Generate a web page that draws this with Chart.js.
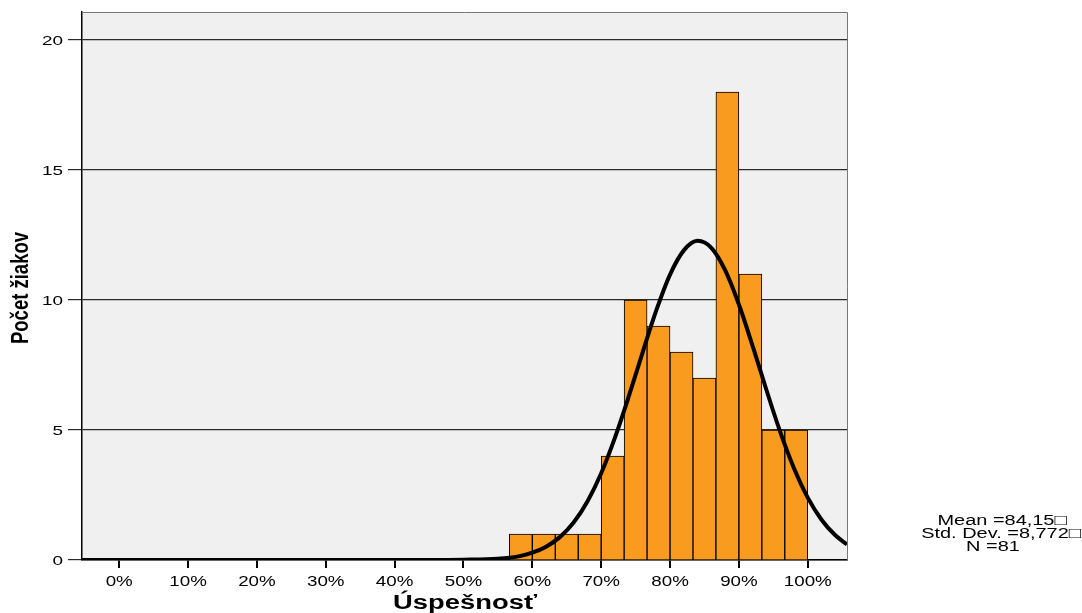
<!DOCTYPE html>
<html>
<head>
<meta charset="utf-8">
<script src="https://cdn.jsdelivr.net/npm/chart.js@4/dist/chart.umd.min.js"></script>
<style>
    html, body { margin: 0; padding: 0; background: #fff; }
    #wrap { width: 1082px; height: 613px; }
</style>
</head>
<body>
<div id="wrap"><canvas id="histChart" width="1082" height="613"></canvas></div>
<script>
// Histogram bins (centre of each 3.33 % wide bin) and counts
const binCenters = [58.33, 61.67, 65, 68.33, 71.67, 75, 78.33, 81.67, 85, 88.33, 91.67, 95, 98.33];
const counts = [1, 1, 1, 1, 4, 10, 9, 8, 7, 18, 11, 5, 5];

// Normal curve
const curveX = [-5.4, 0, 10, 20, 30, 40, 45, 50, 55, 58, 60, 62, 64, 66, 68, 70, 72, 74, 76, 78, 80, 82, 84,
    86, 88, 90, 92, 94, 96, 98, 100, 102, 104, 105.7];
const curveY = [0, 0, 0, 0, 0, 0, 0, 0.01, 0.05, 0.14, 0.28, 0.51, 0.88, 1.44, 2.25, 3.34, 4.71, 6.29, 7.97, 9.6, 10.98, 11.91, 12.28,
    12.01, 11.15, 9.83, 8.23, 6.54, 4.93, 3.53, 2.4, 1.55, 0.95, 0.6];

const xTicks = [0, 10, 20, 30, 40, 50, 60, 70, 80, 90, 100];
const yTicks = [0, 5, 10, 15, 20];

const xTitle = 'Úspešnosť';
const yTitle = 'Počet žiakov';
const statsLines = ['Mean =84,15\u25A1', 'Std. Dev. =8,772\u25A1', 'N =81'];

// draw text squeezed/stretched horizontally (the original is rendered wide)
function wideText(ctx, text, x, y, sx) {
    ctx.save();
    ctx.translate(x, y);
    ctx.scale(sx, 1);
    ctx.fillText(text, 0, 0);
    ctx.restore();
}

// plot background, top/right frame, tick labels, titles, stats
const framePlugin = {
    id: 'frame',
    beforeDraw(chart) {
        const { ctx, chartArea: a } = chart;
        ctx.save();
        ctx.fillStyle = '#f0f0f0';
        ctx.fillRect(a.left, a.top, a.right - a.left, a.bottom - a.top);
        ctx.restore();
    },
    afterDraw(chart) {
        const { ctx, chartArea: a, scales } = chart;
        ctx.save();
        ctx.strokeStyle = '#777';
        ctx.lineWidth = 1;
        ctx.beginPath();
        ctx.moveTo(a.left, a.top + 0.5);
        ctx.lineTo(a.right + 0.5, a.top + 0.5);
        ctx.lineTo(a.right + 0.5, a.bottom);
        ctx.stroke();

        ctx.fillStyle = '#000';
        ctx.textBaseline = 'middle';

        // x tick labels
        ctx.textAlign = 'center';
        ctx.font = '15px "Liberation Sans", Arial, sans-serif';
        xTicks.forEach(v => wideText(ctx, v + '%', scales.x.getPixelForValue(v), 582, 1.25));

        // y tick labels
        ctx.textAlign = 'right';
        ctx.font = '13.5px "Liberation Sans", Arial, sans-serif';
        yTicks.forEach(v => wideText(ctx, String(v), 63, scales.y.getPixelForValue(v) + 1, 1.4));

        // axis titles
        ctx.textAlign = 'center';
        ctx.font = 'bold 20px "Liberation Sans", Arial, sans-serif';
        let w = ctx.measureText(xTitle).width;
        wideText(ctx, xTitle, 465, 603, 144 / w);

        ctx.font = 'bold 18.5px "Liberation Sans", Arial, sans-serif';
        w = ctx.measureText(yTitle).width;
        ctx.save();
        ctx.translate(22, 288);
        ctx.rotate(-Math.PI / 2);
        ctx.scale(112 / w, 1.25);
        ctx.fillText(yTitle, 0, 0);
        ctx.restore();

        // stats box
        ctx.font = '15.5px "Liberation Sans", Arial, sans-serif';
        const sx = 129 / ctx.measureText(statsLines[0]).width;
        const cx = [1002, 1001, 993];
        statsLines.forEach((t, i) => wideText(ctx, t, cx[i], 521 + i * 13, sx));
        ctx.restore();
    }
};

new Chart(document.getElementById('histChart'), {
    data: {
        datasets: [
            {
                type: 'line',
                data: curveX.map((x, i) => ({ x, y: curveY[i] })),
                borderColor: '#000',
                borderWidth: 4,
                pointRadius: 0,
                cubicInterpolationMode: 'monotone',
                fill: false,
                order: 0
            },
            {
                type: 'bar',
                data: binCenters.map((x, i) => ({ x, y: counts[i] })),
                backgroundColor: '#f99b1f',
                borderColor: '#000',
                borderWidth: 1,
                barPercentage: 1,
                categoryPercentage: 1,
                order: 1
            }
        ]
    },
    options: {
        responsive: false,
        animation: false,
        layout: { padding: { left: 0, right: 235, top: 12, bottom: 0 } },
        plugins: { legend: { display: false }, tooltip: { enabled: false } },
        scales: {
            x: {
                type: 'linear',
                min: -5.4,
                max: 105.7,
                offset: false,
                afterBuildTicks: s => { s.ticks = xTicks.map(v => ({ value: v })); },
                afterFit: s => { s.height = 53; },
                grid: { offset: false, drawOnChartArea: false, drawTicks: true, tickLength: 8, color: '#000', lineWidth: 2 },
                border: { display: true, color: '#000', width: 1.5 },
                ticks: { color: 'rgba(0,0,0,0)', maxRotation: 0, font: { size: 2 } }
            },
            y: {
                min: 0,
                max: 21.08,
                afterBuildTicks: s => { s.ticks = yTicks.map(v => ({ value: v })); },
                afterFit: s => { s.width = 82; },
                grid: { color: '#2a2a2a', lineWidth: 1.2, tickLength: 14 },
                border: { display: true, color: '#000', width: 1.5 },
                ticks: { color: 'rgba(0,0,0,0)', padding: 6, font: { size: 2 } }
            }
        }
    },
    plugins: [framePlugin]
});
</script>
</body>
</html>
